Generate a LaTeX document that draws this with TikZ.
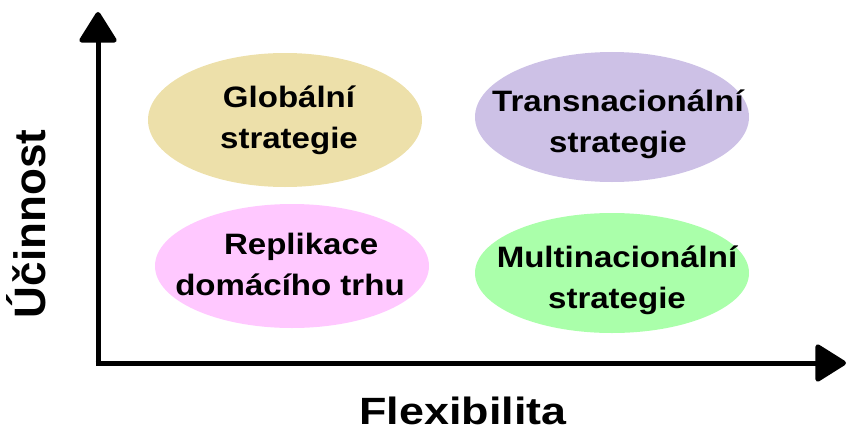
\documentclass[tikz,border=0pt]{standalone}
\usepackage{fontspec}
\setmainfont{Liberation Sans}
\usetikzlibrary{arrows.meta}
\definecolor{globcol}{RGB}{237,224,170}
\definecolor{transcol}{RGB}{205,193,230}
\definecolor{replcol}{RGB}{255,200,255}
\definecolor{multcol}{RGB}{170,255,170}
\tikzset{
  label text/.style={font=\fontsize{29.5}{41}\selectfont\bfseries, align=center, inner sep=0pt, xscale=1.12},
  axis title/.style={font=\fontsize{44}{50}\selectfont\bfseries, inner sep=0pt},
  wide title/.style={font=\fontsize{38}{44}\selectfont\bfseries, inner sep=0pt, xscale=1.18},
  axisline/.style={line width=5pt, -{Triangle[length=33pt,width=40pt,round]}},
}
\begin{document}
\begin{tikzpicture}[x=1pt,y=-1pt]
  \useasboundingbox (0,0) rectangle (848,428);
  % axes
  \coordinate (origin) at (98,363);
  \coordinate (ytip) at (98,12);
  \coordinate (xtip) at (846,363);
  \draw[axisline] ([yshift=2.5pt]origin) -- (ytip);
  \draw[axisline] ([xshift=-2.5pt]origin) -- (xtip);
  % quadrant ellipses
  \fill[globcol] (285,120) ellipse [x radius=137, y radius=67];
  \fill[transcol] (612,117) ellipse [x radius=137, y radius=65];
  \fill[replcol] (292,266) ellipse [x radius=137, y radius=62];
  \fill[multcol] (612,273) ellipse [x radius=137, y radius=60];
  % labels
  \node[label text] (glob) at (289,120) {Globální\\strategie};
  \node[label text] (trans) at (618,124) {Transnacionální\\strategie};
  \node[label text] (repl) at (290,264) {\hspace*{20pt}Replikace\\domácího trhu};
  \node[label text] (mult) at (617,280) {Multinacionální\\strategie};
  % axis titles
  \node[wide title, anchor=base] (xlab) at (463,424) {Flexibilita};
  \node[axis title, anchor=base, rotate=90] (ylab) at (45,224) {Účinnost};
\end{tikzpicture}
\end{document}
